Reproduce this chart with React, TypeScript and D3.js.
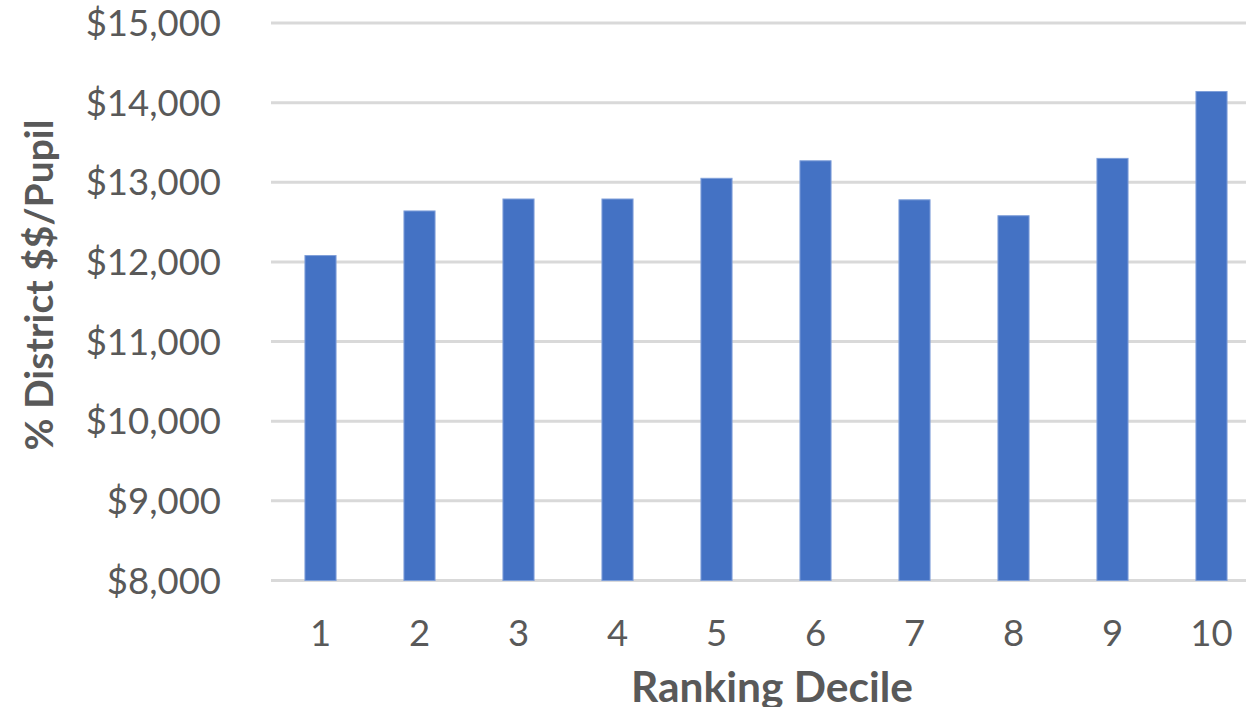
import React from "react";
import * as d3 from "d3";

const categories = ["1", "2", "3", "4", "5", "6", "7", "8", "9", "10"];
const values = [12080, 12640, 12790, 12790, 13050, 13270, 12780, 12580, 13300, 14140];
const yTicks = [8000, 9000, 10000, 11000, 12000, 13000, 14000, 15000];
const xTitle = "Ranking Decile";
const yTitle = "% District $$/Pupil";

const W = 1246;
const H = 707;
const FONT = "Lato, 'Open Sans', sans-serif";
const TEXT = "#595959";

export default function App() {
  const plotLeft = 271;
  const band = 99;
  const x = d3
    .scaleBand<string>()
    .domain(categories)
    .range([plotLeft, plotLeft + band * categories.length])
    .paddingInner(0.686)
    .paddingOuter(0.343);
  const y = d3.scaleLinear().domain([8000, 15000]).range([580.5, 23]);
  const fmt = (v: number) => "$" + d3.format(",")(v);
  const bx = d3.scaleBand<string>().domain(categories).range([plotLeft, plotLeft + band * categories.length]);

  return (
    <svg
      width={W}
      height={H}
      style={{ position: "absolute", left: 0, top: 0, background: "#fff" }}
      fontFamily={FONT}
    >
      {yTicks.map((t) => (
        <g key={t}>
          <line x1={plotLeft} x2={W + 50} y1={y(t)} y2={y(t)} stroke="#d9d9d9" strokeWidth={3} />
          <text x={221} y={y(t) + 13} textAnchor="end" fontSize={36.5} fill={TEXT}>
            {fmt(t)}
          </text>
        </g>
      ))}
      {categories.map((c, i) => (
        <rect
          key={c}
          x={x(c)}
          y={y(values[i])}
          width={x.bandwidth()}
          height={y(8000) - y(values[i])}
          fill="#4472C4"
          stroke="#7f9fd9"
          strokeWidth={1}
        />
      ))}
      {categories.map((c) => (
        <text
          key={c}
          x={(bx(c) as number) + bx.bandwidth() / 2}
          y={646}
          textAnchor="middle"
          fontSize={36.5}
          fill={TEXT}
        >
          {c}
        </text>
      ))}
      <text x={772} y={702} textAnchor="middle" fontSize={42.5} fontWeight="bold" fill={TEXT}>
        {xTitle}
      </text>
      <text
        transform={`translate(53, 285) rotate(-90)`}
        textAnchor="middle"
        fontSize={39}
        fontWeight="bold"
        fill={TEXT}
      >
        {yTitle}
      </text>
    </svg>
  );
}
